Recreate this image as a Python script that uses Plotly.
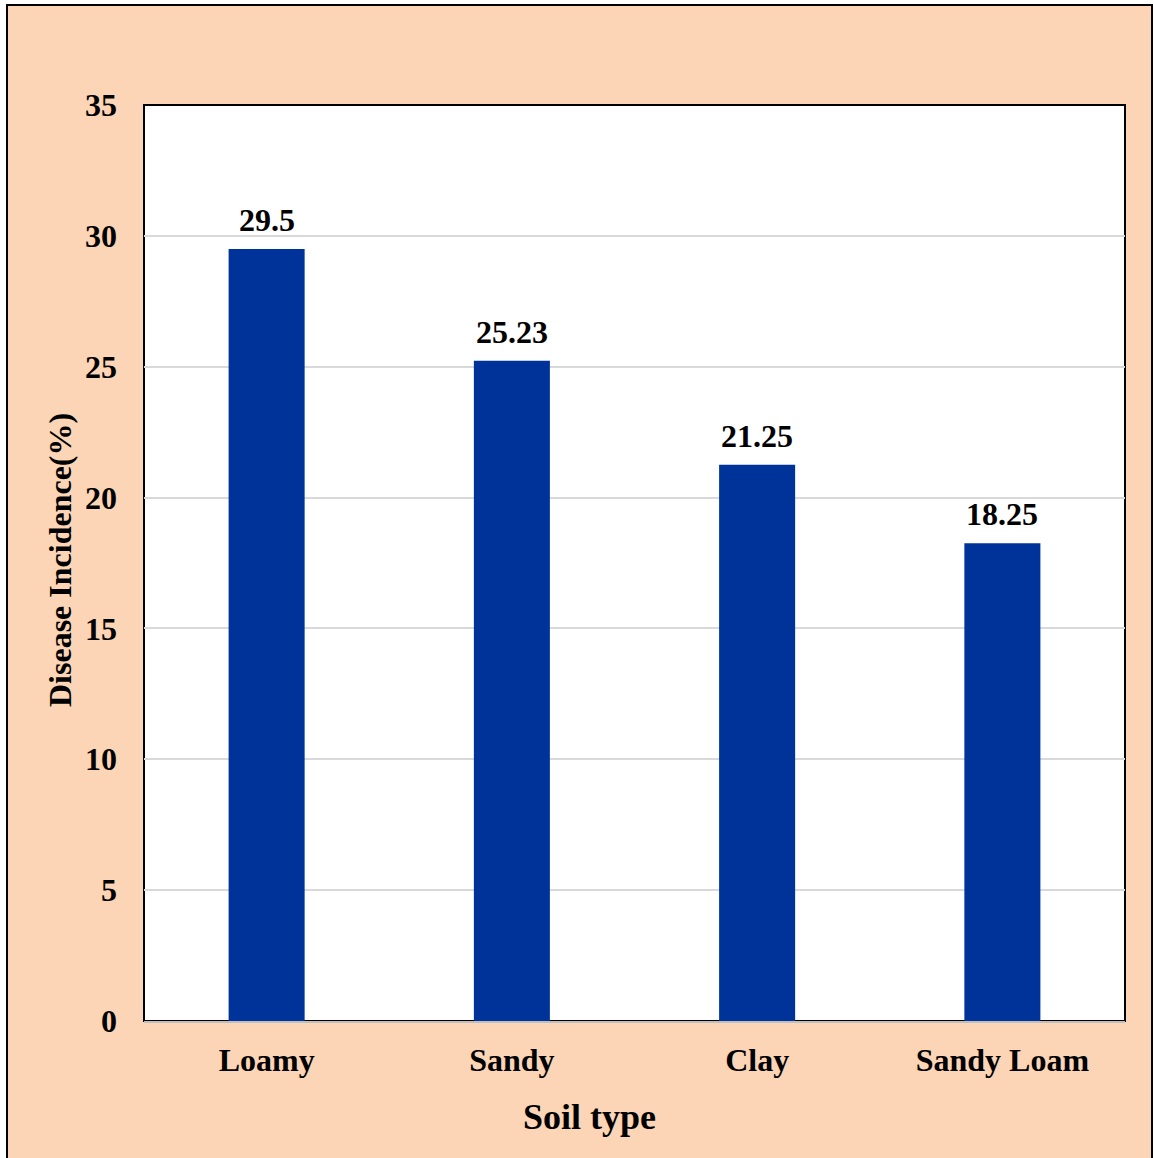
import plotly.graph_objects as go

# Disease incidence by soil type
soil_types = ["Loamy", "Sandy", "Clay", "Sandy Loam"]
incidence = [29.5, 25.23, 21.25, 18.25]
y_ticks = [0, 5, 10, 15, 20, 25, 30, 35]

W, H = 1154, 1158
L, R, T, B = 144, 29, 105, 137
pw, ph = W - L - R, H - T - B

def px_x(x):
    return (x - L) / pw

def px_y(y):
    return (H - B - y) / ph

FONT = "Liberation Serif, Times New Roman, serif"
PEACH = "#FBD5B5"
BAR = "#003399"

fig = go.Figure()
fig.add_trace(go.Bar(
    x=soil_types,
    y=incidence,
    marker=dict(color=BAR, line=dict(width=0)),
    width=0.31,
    hoverinfo="x+y",
))

# value labels above each bar
for cat, val in zip(soil_types, incidence):
    fig.add_annotation(
        x=cat, y=val, xref="x", yref="y",
        text=f"{val:g}", showarrow=False,
        yanchor="bottom", yshift=9,
        font=dict(family=FONT, size=32, color="black", weight="bold"),
    )

# axis titles
fig.add_annotation(
    x=px_x(589.5), y=px_y(1117), xref="paper", yref="paper",
    text="Soil type", showarrow=False, xanchor="center", yanchor="middle",
    font=dict(family=FONT, size=36, color="black", weight="bold"),
)
fig.add_annotation(
    x=px_x(60), y=px_y(560), xref="paper", yref="paper",
    text="Disease Incidence(%)", showarrow=False, textangle=-90,
    xanchor="center", yanchor="middle",
    font=dict(family=FONT, size=32, color="black", weight="bold"),
)

# chart background and plot-area frame
fig.add_shape(
    type="rect", xref="paper", yref="paper", layer="below",
    x0=px_x(7), x1=px_x(1152), y0=px_y(1170), y1=px_y(5),
    fillcolor=PEACH, line=dict(color="black", width=2),
)
fig.add_shape(
    type="rect", xref="paper", yref="paper", layer="below",
    x0=0, x1=1, y0=0, y1=1,
    fillcolor="white", line=dict(color="black", width=2),
)

fig.update_layout(
    width=W, height=H,
    margin=dict(l=L, r=R, t=T, b=B, autoexpand=False),
    paper_bgcolor="white",
    plot_bgcolor="white",
    showlegend=False,
    font=dict(family=FONT, color="black"),
    xaxis=dict(
        showline=True, linecolor="#BFBFBF", linewidth=2,
        showgrid=False, ticks="", ticklabelstandoff=10,
        tickfont=dict(family=FONT, size=32, color="black", weight="bold"),
    ),
    yaxis=dict(
        range=[0, 35], tickvals=y_ticks, ticktext=[str(v) for v in y_ticks],
        showgrid=True, gridcolor="#D9D9D9", gridwidth=1.5,
        zeroline=False, showline=False, ticks="", ticklabelstandoff=26,
        tickfont=dict(family=FONT, size=32, color="black", weight="bold"),
    ),
)

fig.write_html("out.html")
